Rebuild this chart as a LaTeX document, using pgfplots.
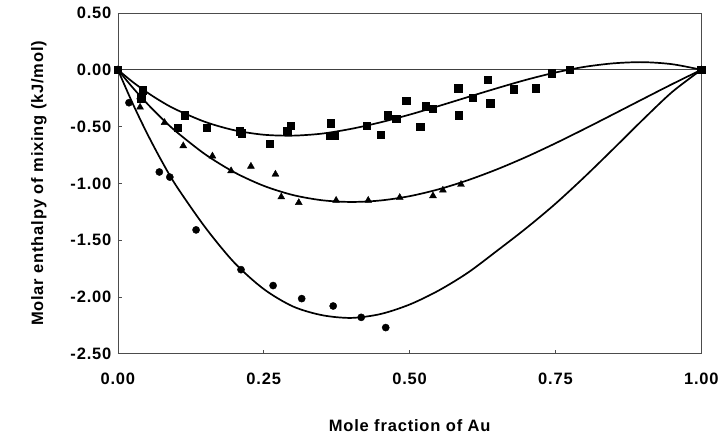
\documentclass[border=0pt]{standalone}
\usepackage{fontspec}
\setmainfont{Liberation Sans}[LetterSpace=5]
\usepackage{pgfplots}
\pgfplotsset{compat=1.18}

% measured enthalpies of mixing, three series
\pgfplotstableread{
x y
0.000 0.00
0.043 -0.18
0.040 -0.25
0.102 -0.51
0.115 -0.40
0.152 -0.51
0.209 -0.54
0.212 -0.56
0.260 -0.65
0.290 -0.54
0.296 -0.49
0.365 -0.47
0.363 -0.58
0.372 -0.58
0.426 -0.49
0.450 -0.57
0.462 -0.40
0.477 -0.43
0.494 -0.27
0.518 -0.50
0.527 -0.32
0.540 -0.345
0.583 -0.163
0.584 -0.40
0.608 -0.245
0.634 -0.09
0.638 -0.295
0.678 -0.17
0.716 -0.163
0.743 -0.03
0.774 0.00
1.000 0.00
}\squares

\pgfplotstableread{
x y
0.000 0.00
0.038 -0.24
0.038 -0.33
0.080 -0.465
0.112 -0.67
0.162 -0.76
0.194 -0.89
0.228 -0.85
0.270 -0.92
0.280 -1.12
0.310 -1.17
0.374 -1.15
0.429 -1.15
0.483 -1.125
0.540 -1.11
0.557 -1.06
0.588 -1.01
1.000 0.00
}\triangles

\pgfplotstableread{
x y
0.000 0.00
0.019 -0.29
0.071 -0.90
0.089 -0.945
0.134 -1.41
0.211 -1.76
0.266 -1.90
0.315 -2.015
0.369 -2.08
0.417 -2.18
0.459 -2.27
1.000 0.00
}\circles

% fitted curves
\pgfplotstableread{
x y
0.000 0.0
0.025 -0.106
0.050 -0.199
0.075 -0.281
0.100 -0.351
0.150 -0.460
0.200 -0.533
0.250 -0.572
0.300 -0.580
0.350 -0.562
0.400 -0.520
0.450 -0.463
0.500 -0.395
0.550 -0.319
0.600 -0.240
0.650 -0.162
0.700 -0.088
0.750 -0.024
0.800 0.026
0.850 0.057
0.900 0.067
0.950 0.049
1.000 0.0
}\fitsquares

\pgfplotstableread{
x y
0.000 0.0
0.025 -0.155
0.050 -0.297
0.075 -0.427
0.100 -0.545
0.150 -0.746
0.200 -0.904
0.250 -1.022
0.300 -1.103
0.350 -1.149
0.400 -1.164
0.450 -1.151
0.500 -1.113
0.550 -1.052
0.600 -0.972
0.650 -0.876
0.700 -0.767
0.750 -0.647
0.800 -0.520
0.850 -0.389
0.900 -0.257
0.950 -0.126
1.000 0.0
}\fittriangles

\pgfplotstableread{
x y
0.000 0.0
0.025 -0.293
0.050 -0.560
0.075 -0.803
0.100 -1.022
0.150 -1.390
0.200 -1.701
0.250 -1.931
0.300 -2.084
0.350 -2.161
0.400 -2.185
0.450 -2.151
0.500 -2.067
0.550 -1.943
0.600 -1.786
0.650 -1.593
0.700 -1.394
0.750 -1.179
0.800 -0.942
0.850 -0.692
0.900 -0.438
0.950 -0.195
1.000 0.0
}\fitcircles

\begin{document}
\begin{tikzpicture}
\begin{axis}[
  scale only axis, width=584pt, height=341pt,
  xmin=0, xmax=1, ymin=-2.5, ymax=0.5,
  xtick={0,0.25,0.5,0.75,1},
  xticklabels={0.00,0.25,0.50,0.75,1.00},
  ytick={-2.5,-2,-1.5,-1,-0.5,0,0.5},
  yticklabels={-2.50,-2.00,-1.50,-1.00,-0.50,0.00,0.50},
  xtick pos=bottom, ytick pos=left,
  tick align=inside, major tick length=4pt,
  axis line style={draw=black!70, line width=0.7pt},
  tick style={draw=black!70, line width=0.7pt},
  ticklabel style={font=\fontsize{16.5}{19}\selectfont\bfseries},
  yticklabel style={xshift=-3pt},
  xticklabel style={yshift=-16pt},
  label style={font=\fontsize{16.5}{19}\selectfont\bfseries},
  xlabel={Mole fraction of Au},
  ylabel={Molar enthalpy of mixing (kJ/mol)},
  xlabel style={at={([yshift=-72pt]axis description cs:0.5,0)}, anchor=center},
  ylabel style={at={([xshift=-79pt]axis description cs:0,0.5)}, anchor=center},
  clip=false,
]
% zero reference line
\addplot[black!75, line width=0.7pt] coordinates {(0,0) (1,0)};

\addplot[black, line width=1.7pt, smooth] table {\fitsquares};
\addplot[black, line width=1.7pt, smooth] table {\fittriangles};
\addplot[black, line width=1.7pt, smooth] table {\fitcircles};

\addplot[only marks, mark=square*, mark size=3.7pt, black] table {\squares};
\addplot[only marks, mark=triangle*, mark size=4pt, black] table {\triangles};
\addplot[only marks, mark=*, mark size=3.6pt, black] table {\circles};
\end{axis}
\path ([shift={(-118pt,-82pt)}]current axis.south west)
      rectangle ([shift={(20pt,13pt)}]current axis.north east);
\end{tikzpicture}
\end{document}
